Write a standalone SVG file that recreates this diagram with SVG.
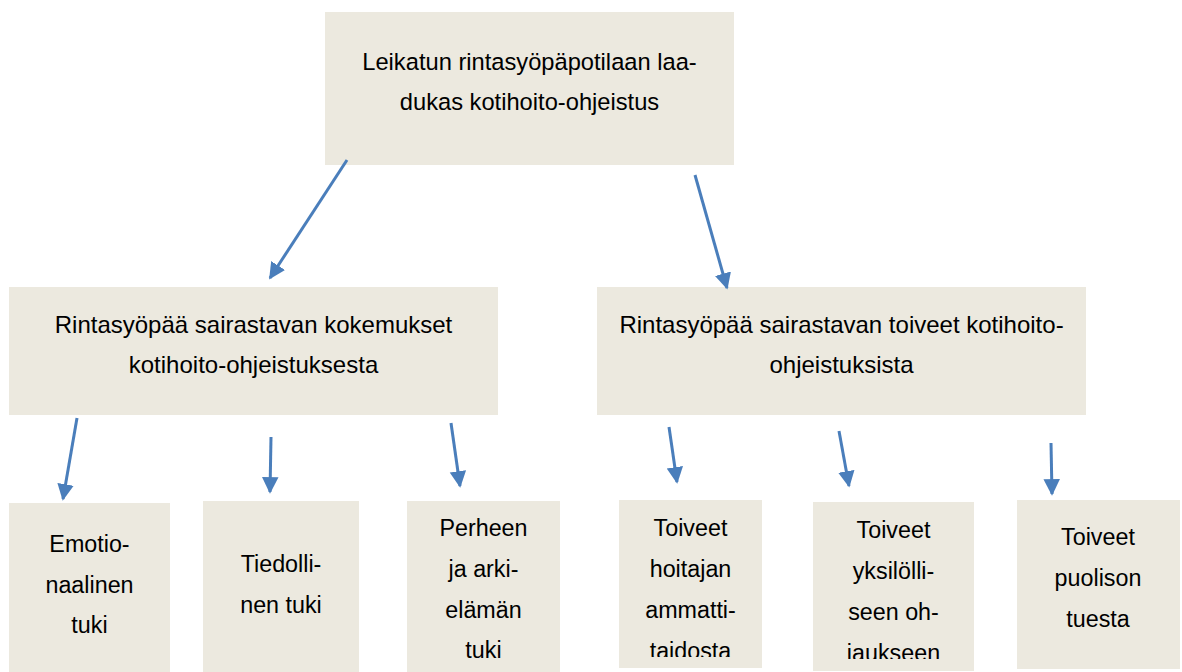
<svg xmlns="http://www.w3.org/2000/svg" width="1182" height="672" viewBox="0 0 1182 672">
<style>
.box{fill:#ECE9DF;}
.t{font-family:"Liberation Sans",Arial,sans-serif;fill:#000;text-anchor:middle;}
.t1{font-size:23.7px;}
.t2{font-size:24px;}
.t3{font-size:23.3px;}
.c{stroke:#4A7EBB;stroke-width:3;fill:none;marker-end:url(#ah);}
</style>
<defs>
<marker id="ah" viewBox="0 0 10 10" refX="9" refY="5" markerWidth="5.5" markerHeight="6" orient="auto" markerUnits="strokeWidth">
<path d="M0,0 L10,5 L0,10 z" fill="#4A7EBB"/>
</marker>
<clipPath id="cl4"><rect x="619" y="500" width="143" height="157"/></clipPath>
<clipPath id="cl5"><rect x="813" y="502" width="161" height="157"/></clipPath>
</defs>
<rect width="1182" height="672" fill="#fff"/>
<g id="top">
<rect class="box" x="325" y="12" width="409" height="153"/>
<text class="t t1" x="529.5" y="70">Leikatun rintasyöpäpotilaan laa-</text>
<text class="t t1" x="529.5" y="110">dukas kotihoito-ohjeistus</text>
</g>
<g id="kokemukset">
<rect class="box" x="9" y="287" width="489" height="128"/>
<text class="t t2" x="253.5" y="333">Rintasyöpää sairastavan kokemukset</text>
<text class="t t2" x="253.5" y="373">kotihoito-ohjeistuksesta</text>
</g>
<g id="toiveet">
<rect class="box" x="597" y="287" width="489" height="128"/>
<text class="t t2" x="841.5" y="333">Rintasyöpää sairastavan toiveet kotihoito-</text>
<text class="t t2" x="841.5" y="373">ohjeistuksista</text>
</g>
<g id="emotionaalinen">
<rect class="box" x="9" y="503" width="161" height="169"/>
<text class="t t3" x="89.5" y="552">Emotio-</text>
<text class="t t3" x="89.5" y="593">naalinen</text>
<text class="t t3" x="89.5" y="633">tuki</text>
</g>
<g id="tiedollinen">
<rect class="box" x="203" y="501" width="156" height="171"/>
<text class="t t3" x="281" y="572">Tiedolli-</text>
<text class="t t3" x="281" y="613">nen tuki</text>
</g>
<g id="perhe">
<rect class="box" x="407" y="501" width="153" height="171"/>
<text class="t t3" x="483.5" y="536">Perheen</text>
<text class="t t3" x="483.5" y="577">ja arki-</text>
<text class="t t3" x="483.5" y="618">elämän</text>
<text class="t t3" x="483.5" y="658">tuki</text>
</g>
<g id="hoitaja">
<rect class="box" x="619" y="500" width="143" height="168"/>
<g clip-path="url(#cl4)">
<text class="t t3" x="690.5" y="536">Toiveet</text>
<text class="t t3" x="690.5" y="577">hoitajan</text>
<text class="t t3" x="690.5" y="618">ammatti-</text>
<text class="t t3" x="690.5" y="659">taidosta</text>
</g>
</g>
<g id="yksilollinen">
<rect class="box" x="813" y="502" width="161" height="169"/>
<g clip-path="url(#cl5)">
<text class="t t3" x="893.5" y="538">Toiveet</text>
<text class="t t3" x="893.5" y="579">yksilölli-</text>
<text class="t t3" x="893.5" y="620">seen oh-</text>
<text class="t t3" x="893.5" y="661">jaukseen</text>
</g>
</g>
<g id="puoliso">
<rect class="box" x="1017" y="500" width="163" height="169"/>
<text class="t t3" x="1098" y="545">Toiveet</text>
<text class="t t3" x="1098" y="586">puolison</text>
<text class="t t3" x="1098" y="627">tuesta</text>
</g>
<g id="connectors">
<line class="c" x1="347" y1="160" x2="270" y2="278"/>
<line class="c" x1="695" y1="175" x2="727" y2="288"/>
<line class="c" x1="77" y1="418" x2="63" y2="499"/>
<line class="c" x1="271" y1="437" x2="270" y2="492"/>
<line class="c" x1="451" y1="423" x2="460" y2="486"/>
<line class="c" x1="669" y1="427" x2="677" y2="482"/>
<line class="c" x1="839" y1="431" x2="849" y2="486"/>
<line class="c" x1="1051" y1="443" x2="1052" y2="494"/>
</g>
</svg>
